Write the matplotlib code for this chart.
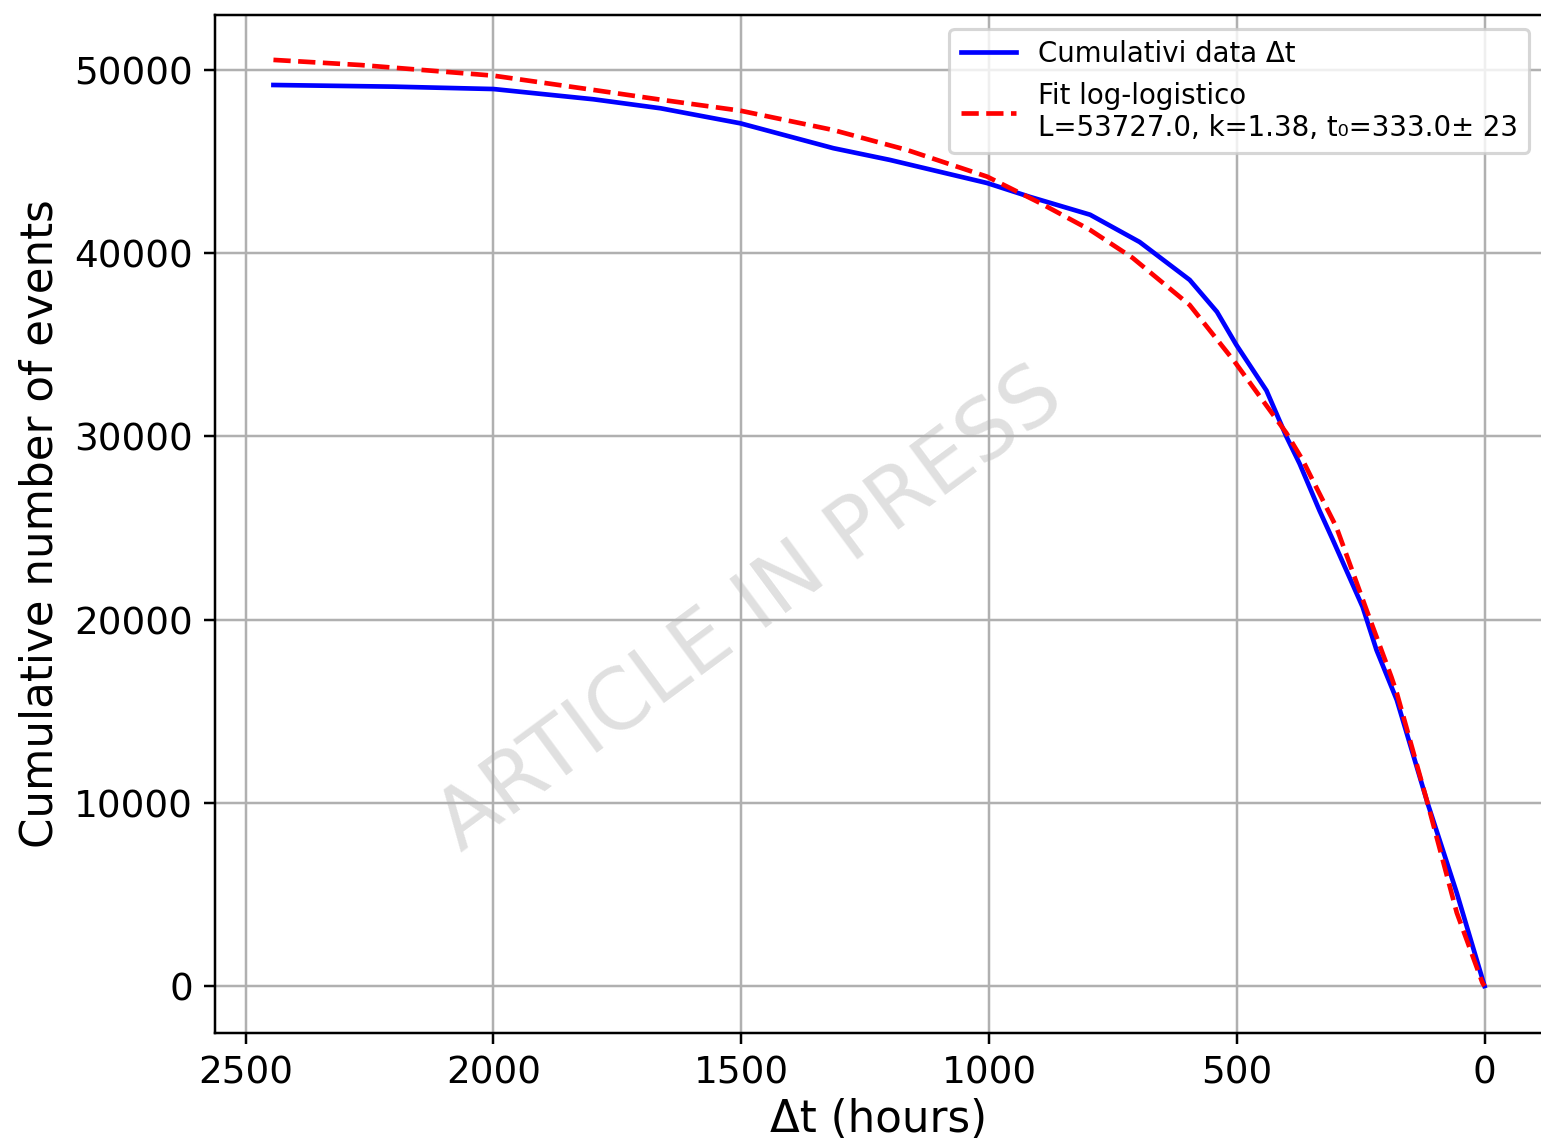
import matplotlib
matplotlib.use('Agg')
import matplotlib.pyplot as plt

# cumulative data (hours before, events)
data_hours = [2444, 2202, 2000, 1798, 1663, 1502, 1314, 1200, 1004, 917, 796,
              696, 595, 540, 501, 440, 400, 373, 333, 306, 246, 218, 177,
              115, 56, 0]
data_events = [49180, 49090, 48960, 48400, 47910, 47090, 45730, 45090, 43830,
               43070, 42100, 40610, 38540, 36800, 35000, 32500, 30000, 28500,
               25950, 24345, 20690, 18340, 15610, 9990, 5080, 0]

# log-logistic fit curve
fit_hours = [2444, 2268, 2000, 1798, 1663, 1502, 1314, 1165, 1004, 897, 796,
             710, 595, 505, 400, 367, 347, 299, 238, 188, 177, 115, 56, 4, 0]
fit_events = [50550, 50270, 49690, 48910, 48380, 47780, 46720, 45630, 44180,
              42740, 41270, 39740, 37170, 34100, 30190, 28710, 27620, 25050,
              20520, 16870, 15990, 9990, 4000, 160, 0]

data_label = 'Cumulativi data \u0394t'
fit_label = 'Fit log-logistico\nL=53727.0, k=1.38, t\u2080=333.0\u00b1 23'

fig = plt.figure(figsize=(1541 / 224, 1146 / 224), dpi=224)
ax = fig.add_axes([0.1395, 0.0986, 0.8618, 0.8883])

ax.plot(data_hours, data_events, color='blue', lw=1.5, label=data_label)
ax.plot(fit_hours, fit_events, color='red', ls='--', lw=1.5, label=fit_label)

ax.set_xlim(2562, -118)
ax.set_ylim(-2565, 53000)
ax.set_xticks([2500, 2000, 1500, 1000, 500, 0])
ax.set_yticks([0, 10000, 20000, 30000, 40000, 50000])
ax.tick_params(labelsize=12)
ax.set_xlabel('\u0394t (hours)', fontsize=14, labelpad=2)
ax.set_ylabel('Cumulative number of events', fontsize=14)
ax.grid(True)
ax.legend(loc='upper right', fontsize=8.9)

# watermark, sits under the grid
ax.text(0.487, 0.468, 'ARTICLE IN PRESS', fontsize=27, color='#e0e0e0',
        rotation=36.5, ha='center', va='center', zorder=0,
        transform=fig.transFigure)

fig.savefig('out.png', dpi=224)
